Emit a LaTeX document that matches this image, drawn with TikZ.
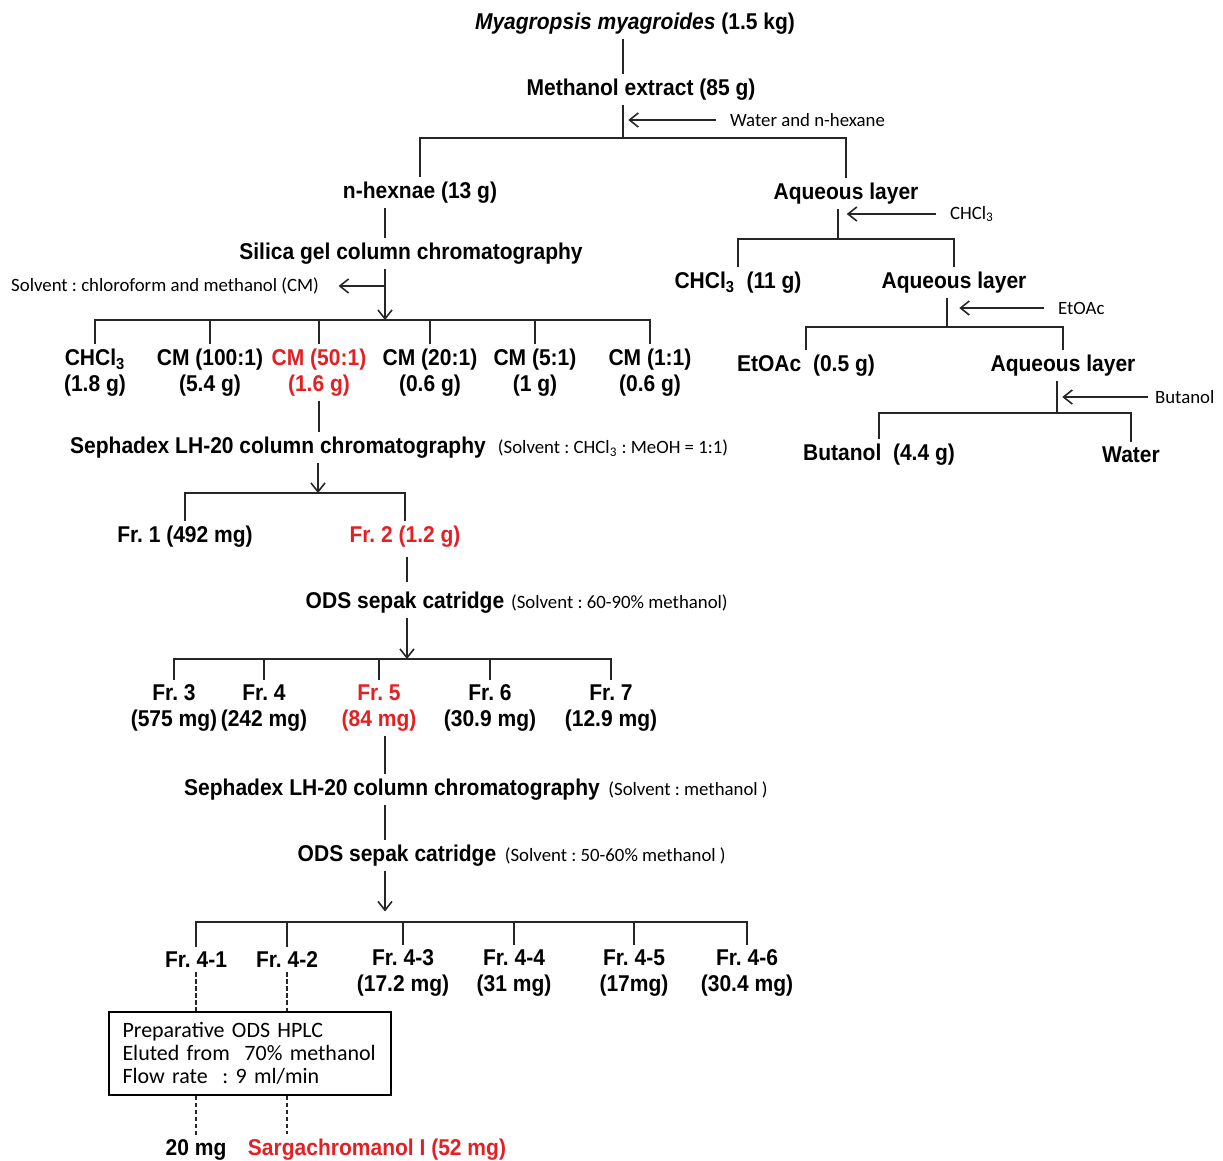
\documentclass[tikz,border=0pt]{standalone}
\usepackage{fontspec}
\setmainfont{Liberation Sans}[FakeStretch=0.92]
\newfontfamily\notefont{Carlito}
\usetikzlibrary{arrows.meta,calc}
\definecolor{hl}{RGB}{228,32,36}
\frenchspacing
\tikzset{%
	lbl/.style   = {font=\fontsize{13}{14.7}\selectfont\bfseries, align=center, inner sep=2.5pt, yshift=-1.5pt},
	hot/.style   = {lbl, text=hl},
	note/.style  = {font=\notefont\fontsize{10.7}{12}\selectfont, inner sep=1pt}, % solvent notes
	link/.style  = {draw=black!85, line width=0.9pt},
	feed/.style  = {link, -{Straight Barb[length=5pt,width=8pt]}}, % arrows
	trace/.style = {draw=black!85, line width=0.6pt, dash pattern=on 2.5pt off 1.5pt}
}

\begin{document}
\begin{tikzpicture}[x=0.02cm,y=-0.02cm]
	\useasboundingbox (0,0) rectangle (1223,1160);

	% split points
	\coordinate (s1) at (623,138);
	\coordinate (s2) at (838,239);
	\coordinate (s3) at (385,320);
	\coordinate (s4) at (947,327);
	\coordinate (s5) at (1057,413);
	\coordinate (s6) at (318,493);
	\coordinate (s7) at (407,659);
	\coordinate (s8) at (385,922);

	% main column
	\node[lbl] (top) at (635,21) {\textit{Myagropsis myagroides} (1.5 kg)};
	\node[lbl] (meoh) at (641,87) {Methanol extract (85 g)};
	\node[note, anchor=west] (wh) at (728,120) {Water and n-hexane};
	\node[lbl] (hex) at (420,190) {n-hexnae (13 g)};
	\node[lbl] (silica) at (411,251) {Silica gel column chromatography};
	\node[note, anchor=east] (solv) at (321,286) {Solvent : chloroform and methanol (CM)};

	\node[lbl] (c1) at (95,370) {CHCl\textsubscript{3}\\(1.8 g)};
	\node[lbl] (c2) at (210,370) {CM (100:1)\\(5.4 g)};
	\node[hot] (c3) at (319,370) {CM (50:1)\\(1.6 g)};
	\node[lbl] (c4) at (430,370) {CM (20:1)\\(0.6 g)};
	\node[lbl] (c5) at (535,370) {CM (5:1)\\(1 g)};
	\node[lbl] (c6) at (650,370) {CM (1:1)\\(0.6 g)};

	\node[lbl] (sep1) at (278,445) {Sephadex LH-20 column chromatography};
	\node[note, anchor=base west] (sep1s) at ([xshift=3pt]sep1.base east) {(Solvent : CHCl\textsubscript{3} : MeOH = 1:1)};
	\node[lbl] (fr1) at (185,534) {Fr. 1 (492 mg)};
	\node[hot] (fr2) at (405,534) {Fr. 2 (1.2 g)};

	\node[lbl] (ods1) at (405,600) {ODS sepak catridge};
	\node[note, anchor=base west] (ods1s) at ([xshift=0pt]ods1.base east) {(Solvent : 60-90\% methanol)};
	\node[lbl] (fr3) at (174,705) {Fr. 3\\(575 mg)};
	\node[lbl] (fr4) at (264,705) {Fr. 4\\(242 mg)};
	\node[hot] (fr5) at (379,705) {Fr. 5\\(84 mg)};
	\node[lbl] (fr6) at (490,705) {Fr. 6\\(30.9 mg)};
	\node[lbl] (fr7) at (611,705) {Fr. 7\\(12.9 mg)};

	\node[lbl] (sep2) at (392,787) {Sephadex LH-20 column chromatography};
	\node[note, anchor=base west] (sep2s) at ([xshift=1pt]sep2.base east) {(Solvent : methanol )};
	\node[lbl] (ods2) at (397,853) {ODS sepak catridge};
	\node[note, anchor=base west] (ods2s) at ([xshift=1pt]ods2.base east) {(Solvent : 50-60\% methanol )};

	\node[lbl] (g1) at (196,957) {Fr. 4-1};
	\node[lbl] (g2) at (287,957) {Fr. 4-2};
	\node[lbl] (g3) at (403,970) {Fr. 4-3\\(17.2 mg)};
	\node[lbl] (g4) at (514,970) {Fr. 4-4\\(31 mg)};
	\node[lbl] (g5) at (634,970) {Fr. 4-5\\(17mg)};
	\node[lbl] (g6) at (747,970) {Fr. 4-6\\(30.4 mg)};

	\node[draw, line width=0.9pt, minimum width=5.64cm, minimum height=1.66cm, text width=5.1cm, align=left,
		font=\notefont\fontsize{12.5}{13}\selectfont] (hplc) at (250,1053.5)
		{Preparative ODS HPLC\\Eluted from~ 70\% methanol\\Flow rate~ : 9 ml/min};
	\node[lbl] (m20) at (196,1147) {20 mg};
	\node[hot] (sarg) at (377,1147) {Sargachromanol I (52 mg)};

	% partition column
	\node[lbl] (aq1) at (846,191) {Aqueous layer};
	\node[note, anchor=west] (chn) at (948,214) {CHCl\textsubscript{3}};
	\node[lbl] (chl) at (738,280) {CHCl\textsubscript{3}~ (11 g)};
	\node[lbl] (aq2) at (954,280) {Aqueous layer};
	\node[note, anchor=west] (etn) at (1056,308) {EtOAc};
	\node[lbl] (eta) at (806,363) {EtOAc~ (0.5 g)};
	\node[lbl] (aq3) at (1063,363) {Aqueous layer};
	\node[note, anchor=west] (bun) at (1153,397) {Butanol};
	\node[lbl] (but) at (879,452) {Butanol~ (4.4 g)};
	\node[lbl] (wat) at (1131,452) {Water};

	% connectors
	\draw[link] (top.south -| s1) -- (meoh.north -| s1);
	\draw[link] (meoh.south -| s1) -- (s1);
	\draw[feed, shorten <=7pt, shorten >=3pt] (wh.west) -- (wh.west -| s1);
	\draw[link] (hex.north) |- (s1) -| (aq1.north);

	\draw[link] (hex.south -| s3) -- (silica.north -| s3);
	\draw[feed] (silica.south -| s3) -- (s3);
	\draw[feed, shorten >=10pt] (solv.east -| s3) -- (solv.east);
	\draw[link] (c1.north) |- (s3) -| (c6.north);
	\foreach \c in {c2,c3,c4,c5}
		\draw[link] (\c.north) -- (\c.north |- s3);

	\draw[link] (c3.south) -- (c3.south |- sep1.north);
	\draw[feed] (sep1.south -| s6) -- (s6);
	\draw[link] (fr1.north) |- (s6) -| (fr2.north);

	\draw[link, shorten <=3pt, shorten >=3pt] (fr2.south -| s7) -- (ods1.north -| s7);
	\draw[feed] (ods1.south -| s7) -- (s7);
	\draw[link] (fr3.north) |- (s7) -| (fr7.north);
	\foreach \f in {fr4,fr5,fr6}
		\draw[link] (\f.north) -- (\f.north |- s7);

	\draw[link] (fr5.south -| s8) -- (sep2.north -| s8);
	\draw[link] (sep2.south -| s8) -- (ods2.north -| s8);
	\draw[feed, shorten >=6pt] (ods2.south -| s8) -- (s8);
	\draw[link] (g1.north) |- (s8) -| (g6.north);
	\foreach \g in {g2,g3,g4,g5}
		\draw[link] (\g.north) -- (\g.north |- s8);

	\draw[trace] (g1.south) -- (g1.south |- hplc.north);
	\draw[trace] (g2.south) -- (g2.south |- hplc.north);
	\draw[trace] (hplc.south -| g1) -- (m20.north);
	\draw[trace] (hplc.south -| g2) -- (sarg.north -| g2);

	\draw[link] (aq1.south -| s2) -- (s2);
	\draw[feed, shorten <=7pt, shorten >=5pt] (chn.west) -- (chn.west -| s2);
	\draw[link] (chl.north) |- (s2) -| (aq2.north);
	\draw[link] (aq2.south -| s4) -- (s4);
	\draw[feed, shorten <=7pt, shorten >=7pt] (etn.west) -- (etn.west -| s4);
	\draw[link] (eta.north) |- (s4) -| (aq3.north);
	\draw[link] (aq3.south -| s5) -- (s5);
	\draw[feed, shorten <=3pt, shorten >=3pt] (bun.west) -- (bun.west -| s5);
	\draw[link] (but.north) |- (s5) -| (wat.north);
\end{tikzpicture}
\end{document}
